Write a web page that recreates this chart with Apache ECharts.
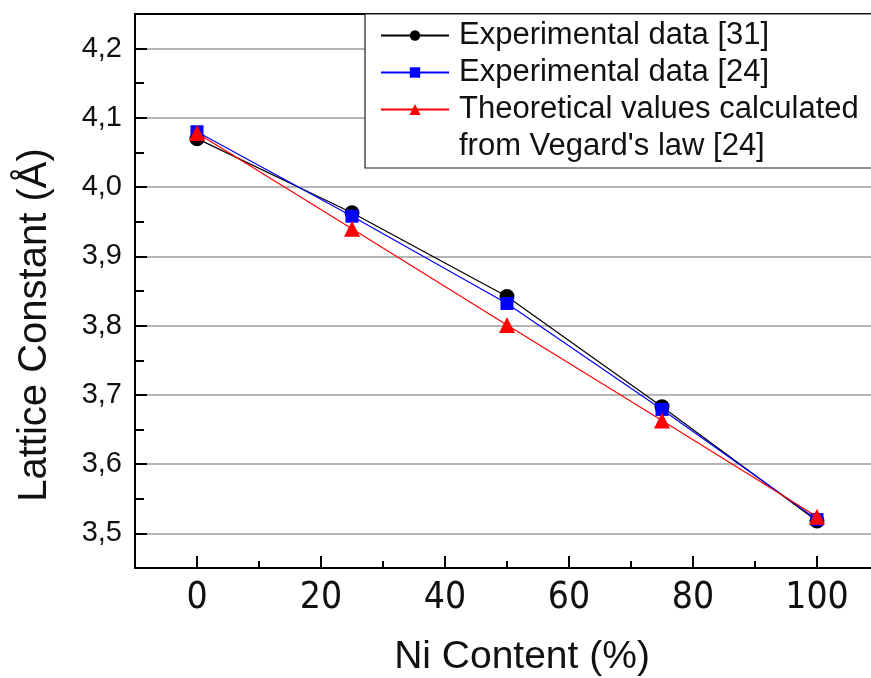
<!DOCTYPE html>
<html>
<head>
<meta charset="utf-8">
<title>Lattice constant vs Ni content</title>
<script src="https://cdn.jsdelivr.net/npm/echarts@6/dist/echarts.min.js"></script>
<style>
  html, body { margin: 0; padding: 0; background: #fff; overflow: hidden; }
  /* the plot frame runs past the right edge of the window */
  #chart { width: 890px; height: 678px; }
</style>
</head>
<body>
<div id="chart"></div>
<script>
// Ni content (%) of each composition
const niContent = [0, 25, 50, 75, 100];

// Lattice constants (Å)
const expData31 = [4.070, 3.963, 3.842, 3.683, 3.518];
const expData24 = [4.080, 3.958, 3.832, 3.679, 3.520];
const vegardData24 = [4.078, 3.940, 3.801, 3.663, 3.524];

const seriesNames = [
  'Experimental data [31]',
  'Experimental data [24]',
  "Theoretical values calculated\nfrom Vegard's law [24]"
];

// Tick positions
const xMajorTicks = [0, 20, 40, 60, 80, 100];
const xMinorTicks = [10, 30, 50, 70, 90];
const yMajorTicks = [3.5, 3.6, 3.7, 3.8, 3.9, 4.0, 4.1, 4.2];
const yMinorTicks = [3.55, 3.65, 3.75, 3.85, 3.95, 4.05, 4.15];

const FONT = 'Liberation Sans, Arial, sans-serif';
const NARROW = 'Liberation Sans Narrow, Arial Narrow, DejaVu Sans Condensed, sans-serif';

function pairs(xs, ys) {
  return xs.map((x, i) => [x, ys[i]]);
}

const chart = echarts.init(document.getElementById('chart'), null, { renderer: 'canvas' });

const baseX = {
  type: 'value', min: -10, max: 110, gridIndex: 0
};
const baseY = {
  type: 'value', min: 3.45, max: 4.25, gridIndex: 0
};

chart.setOption({
  backgroundColor: '#fff',
  animation: false,
  grid: {
    left: 135, top: 14, width: 744, height: 554,
    outerBoundsMode: 'none',
    containLabel: false,
    show: false
  },
  xAxis: [
    Object.assign({}, baseX, {
      position: 'bottom',
      name: 'Ni Content (%)',
      nameLocation: 'middle',
      nameGap: 70,
      nameTextStyle: { fontFamily: FONT, fontSize: 39, color: '#111', padding: [0, 0, 0, 30] },
      axisLine: { show: true, onZero: false, lineStyle: { color: '#000', width: 2 } },
      axisTick: { show: true, inside: true, length: 12, customValues: xMajorTicks,
                  lineStyle: { color: '#000', width: 2 } },
      axisLabel: { show: true, customValues: xMajorTicks, margin: 12,
                   fontFamily: NARROW, fontSize: 37, color: '#111' },
      splitLine: { show: false }
    }),
    Object.assign({}, baseX, {
      position: 'bottom',
      axisLine: { show: false, onZero: false },
      axisTick: { show: true, inside: true, length: 7, customValues: xMinorTicks,
                  lineStyle: { color: '#000', width: 2 } },
      axisLabel: { show: false },
      splitLine: { show: false }
    }),
    // frame line along the top of the plot
    Object.assign({}, baseX, {
      position: 'top',
      axisLine: { show: true, onZero: false, lineStyle: { color: '#000', width: 2 } },
      axisTick: { show: false },
      axisLabel: { show: false },
      splitLine: { show: false }
    })
  ],
  yAxis: [
    Object.assign({}, baseY, {
      position: 'left',
      name: 'Lattice Constant (Å)',
      nameLocation: 'middle',
      nameGap: 80,
      nameTextStyle: { fontFamily: FONT, fontSize: 40, color: '#111', padding: [0, 68, 0, 0] },
      axisLine: { show: true, onZero: false, lineStyle: { color: '#000', width: 2 } },
      axisTick: { show: true, inside: true, length: 12, customValues: yMajorTicks,
                  lineStyle: { color: '#000', width: 2 } },
      axisLabel: { show: true, customValues: yMajorTicks, margin: 13,
                   fontFamily: FONT, fontSize: 29, color: '#111',
                   formatter: v => v.toFixed(1).replace('.', ',') },
      splitLine: { show: true, lineStyle: { color: '#b4b4b4', width: 2 } }
    }),
    Object.assign({}, baseY, {
      position: 'left',
      axisLine: { show: false, onZero: false },
      axisTick: { show: true, inside: true, length: 9, customValues: yMinorTicks,
                  lineStyle: { color: '#000', width: 2 } },
      axisLabel: { show: false },
      splitLine: { show: false }
    })
  ],
  legend: [
    {
      data: [seriesNames[0], seriesNames[1]],
      orient: 'vertical',
      left: 365, top: 14,
      padding: [3, 120, 77, 15],
      itemGap: 0,
      itemWidth: 68, itemHeight: 13,
      selectedMode: false,
      backgroundColor: '#fff',
      borderColor: '#222', borderWidth: 1.2,
      textStyle: { fontFamily: FONT, fontSize: 31, lineHeight: 37, color: '#111', padding: [0, 0, 0, 5] }
    },
    {
      // leading blank line keeps the marker level with the first text line
      data: [seriesNames[2]],
      formatter: name => '\n' + name,
      orient: 'vertical',
      left: 380, top: 54,
      padding: 0,
      itemWidth: 68, itemHeight: 14,
      selectedMode: false,
      textStyle: { fontFamily: FONT, fontSize: 31, lineHeight: 37, color: '#111', padding: [0, 0, 0, 5] }
    }
  ],
  series: [
    {
      name: seriesNames[0], type: 'line', xAxisIndex: 0, yAxisIndex: 0,
      data: pairs(niContent, expData31),
      symbol: 'circle', symbolSize: 15,
      itemStyle: { color: '#000' },
      lineStyle: { color: '#000', width: 1.2 },
      z: 2
    },
    {
      name: seriesNames[1], type: 'line', xAxisIndex: 0, yAxisIndex: 0,
      data: pairs(niContent, expData24),
      symbol: 'rect', symbolSize: 13,
      itemStyle: { color: '#0000ff' },
      lineStyle: { color: '#0000ff', width: 1.2 },
      z: 3
    },
    {
      name: seriesNames[2], type: 'line', xAxisIndex: 0, yAxisIndex: 0,
      data: pairs(niContent, vegardData24),
      symbol: 'triangle', symbolSize: 16,
      itemStyle: { color: '#ff0000' },
      lineStyle: { color: '#ff0000', width: 1.2 },
      z: 4
    }
  ]
});
</script>
</body>
</html>
